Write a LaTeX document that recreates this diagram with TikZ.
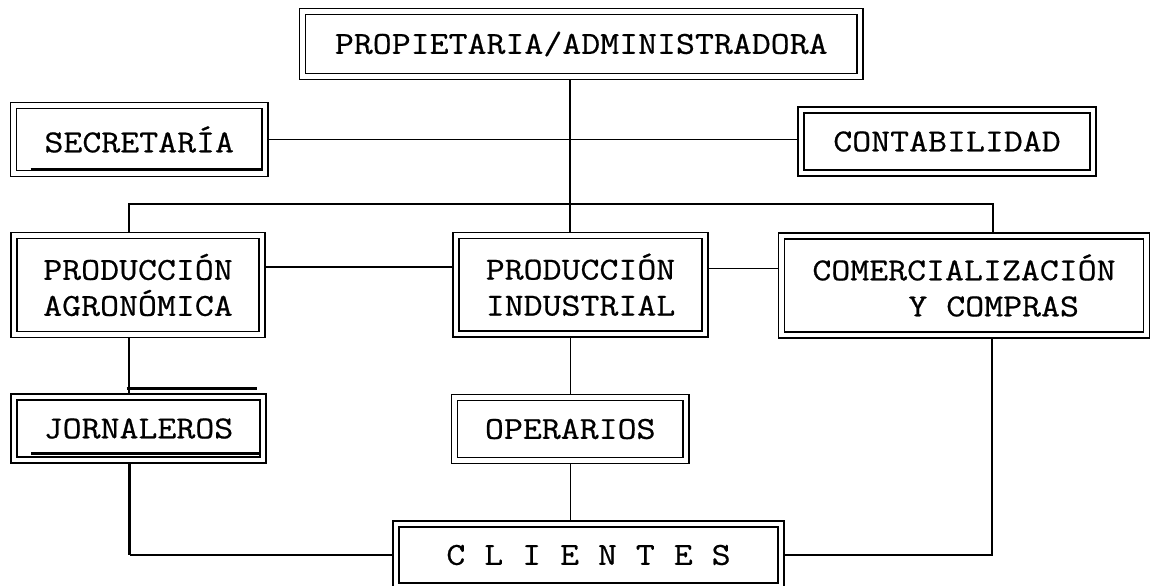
\documentclass[tikz,border=0pt]{standalone}
\usepackage{fontspec}
\newfontfamily\maquina[FakeStretch=1.15, FakeBold=0.6]{Latin Modern Mono}
\usetikzlibrary{backgrounds}
\begin{document}
\begin{tikzpicture}
		[x=1pt, y=-1pt,
		caja/.style={draw, double, line width=1.6pt, double distance=4.4pt,
			inner sep=0pt, align=center,
			font=\maquina\fontsize{32}{36}\selectfont},
		linea/.style={line width=1.2pt},
		gruesa/.style={line width=2.8pt}
		]
		\useasboundingbox (0,0) rectangle (1156,586);
		\node[caja, minimum width=557.5pt, minimum height=65pt] (prop) at (581.25,44) {PROPIETARIA/ADMINISTRADORA};
		\node[caja, minimum width=251.5pt, minimum height=68pt] (secr) at (139.25,139.5) {SECRETARÍA};
		\node[caja, minimum width=292pt, minimum height=63pt] (conta) at (947,141.5) {CONTABILIDAD};
		\node[caja, minimum width=248pt, minimum height=99pt] (agro) at (138,285) {PRODUCCIÓN\\AGRONÓMICA};
		\node[caja, minimum width=249pt, minimum height=98.5pt] (indu) at (580.5,284.75) {PRODUCCIÓN\\INDUSTRIAL};
		\node[caja, align=left, minimum width=365pt, minimum height=99pt] (come) at (964,285.5) {COMERCIALIZACIÓN\\\hspace*{3em}Y COMPRAS};
		\node[caja, minimum width=249pt, minimum height=63pt] (jorn) at (138.5,428.5) {JORNALEROS};
		\node[caja, minimum width=231.5pt, minimum height=63pt] (oper) at (570.25,429) {OPERARIOS};
		\node[caja, minimum width=385pt, minimum height=62pt] (clie) at (588.5,555) {C L I E N T E S};
		\draw[gruesa] ([shift={(18pt,5pt)}]secr.south west) -- ([shift={(-5pt,5pt)}]secr.south east);
		\draw[gruesa] ([shift={(-12pt,8pt)}]jorn.north) -- ([shift={(118pt,8pt)}]jorn.north);
		\draw[gruesa] ([shift={(18pt,7pt)}]jorn.south west) -- ([shift={(-5pt,7pt)}]jorn.south east);
		\begin{pgfonlayer}{background}
			\coordinate (bus) at (570,204);
			\coordinate (codo) at ([xshift=-9pt]jorn.south |- clie.west);
			\draw[linea] (prop.south -| bus) -- (indu.north -| bus);
			\draw[linea] (secr.east) -- (secr.east -| conta.west);
			\draw[linea] ([xshift=-9pt]agro.north) |- (bus) -| ([xshift=29pt]come.north);
			\draw[linea] ([yshift=18pt]agro.east) -- ([yshift=18pt]agro.east -| indu.west);
			\draw[linea] ([yshift=16pt]indu.east) -- ([yshift=16pt]indu.east -| come.west);
			\draw[linea] ([xshift=-9pt]agro.south) -- ([xshift=-9pt]agro.south |- jorn.north);
			\draw[linea] (oper.north |- indu.south) -- (oper.north);
			\draw[linea] (oper.south) -- (clie.north -| oper.south);
			\draw[gruesa] ([xshift=-9pt]jorn.south) -- (codo);
			\draw[linea] (codo) -- (clie.west);
			\draw[linea] ([xshift=28pt]come.south) |- (clie.east);
		\end{pgfonlayer}
	\end{tikzpicture}
\end{document}
